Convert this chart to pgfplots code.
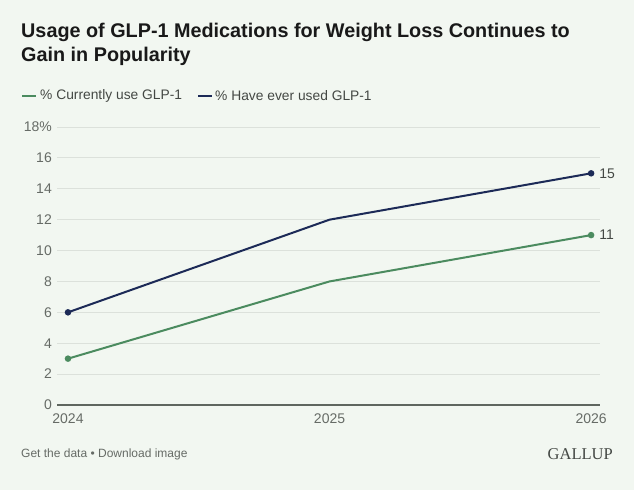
\documentclass[border=0pt]{standalone}
\usepackage{pgfplots}
\pgfplotsset{compat=1.18}
\usepackage{fontspec}
\setmainfont{Liberation Sans}
\newfontfamily\seriffont{Liberation Serif}
\definecolor{bg}{HTML}{F2F7F1}
\definecolor{cgreen}{HTML}{4B8B5F}
\definecolor{cnavy}{HTML}{1C2A57}
\definecolor{gridc}{HTML}{DCE1DB}
\definecolor{zeroc}{HTML}{5F665F}
\definecolor{tickc}{HTML}{666B66}
\definecolor{legc}{HTML}{444844}
\begin{document}
\begin{tikzpicture}[x=1bp,y=1bp]
\fill[bg] (0,0) rectangle (634,490);
\node[anchor=base west, inner sep=0, font=\fontsize{19.8bp}{24bp}\selectfont\bfseries, text=black!90] at (21,452) {Usage of GLP-1 Medications for Weight Loss Continues to};
\node[anchor=base west, inner sep=0, font=\fontsize{19.8bp}{24bp}\selectfont\bfseries, text=black!90] at (21,428) {Gain in Popularity};
% legend
\draw[cgreen, line width=2bp] (22,394) -- (36,394);
\node[anchor=west, inner sep=0, font=\fontsize{13.8bp}{14bp}\selectfont, text=legc] at (40,394) {\% Currently use GLP-1};
\draw[cnavy, line width=2bp] (198,394) -- (212,394);
\node[anchor=west, inner sep=0, font=\fontsize{13.8bp}{14bp}\selectfont, text=legc] at (215,394) {\% Have ever used GLP-1};
% footer
\node[anchor=west, inner sep=0, font=\fontsize{12bp}{12bp}\selectfont, text=tickc] at (21,36) {Get the data \textbullet{} Download image};
\node[anchor=east, inner sep=0, font=\fontsize{16.5bp}{16bp}\selectfont\seriffont, text=legc] at (613,36) {GALLUP};
\begin{axis}[
  at={(57bp,85bp)}, anchor=south west, scale only axis,
  width=543bp, height=278bp,
  xmin=2023.958, xmax=2026.034, ymin=0, ymax=18,
  axis x line*=bottom, axis y line*=left, axis line style={-},
  x axis line style={draw=zeroc, line width=2bp},
  y axis line style={draw=none},
  ytick={0,2,...,18}, yticklabels={0,2,4,6,8,10,12,14,16,18\%},
  xtick={2024,2025,2026}, xticklabels={2024,2025,2026},
  major tick length=0,
  ymajorgrids, grid style={draw=gridc, line width=0.8bp},
  tick label style={font=\fontsize{14bp}{14bp}\selectfont, text=tickc},
  yticklabel style={anchor=east, inner sep=0, xshift=-5bp},
  xticklabel style={anchor=north, inner sep=0, yshift=-9bp},
  clip=false,
]
\addplot[cgreen, line width=2bp, mark=*, mark indices={1,3}, mark size=2.2bp, mark options={fill=cgreen, draw=cgreen}] coordinates {(2024,3) (2025,8) (2026,11)};
\addplot[cnavy, line width=2bp, mark=*, mark indices={1,3}, mark size=2.2bp, mark options={fill=cnavy, draw=cnavy}] coordinates {(2024,6) (2025,12) (2026,15)};
\node[anchor=west, inner sep=0, font=\fontsize{14bp}{14bp}\selectfont, text=legc] at (axis cs:2026,15) [xshift=8bp] {15};
\node[anchor=west, inner sep=0, font=\fontsize{14bp}{14bp}\selectfont, text=legc] at (axis cs:2026,11) [xshift=8bp] {11};
\end{axis}
\end{tikzpicture}
\end{document}
